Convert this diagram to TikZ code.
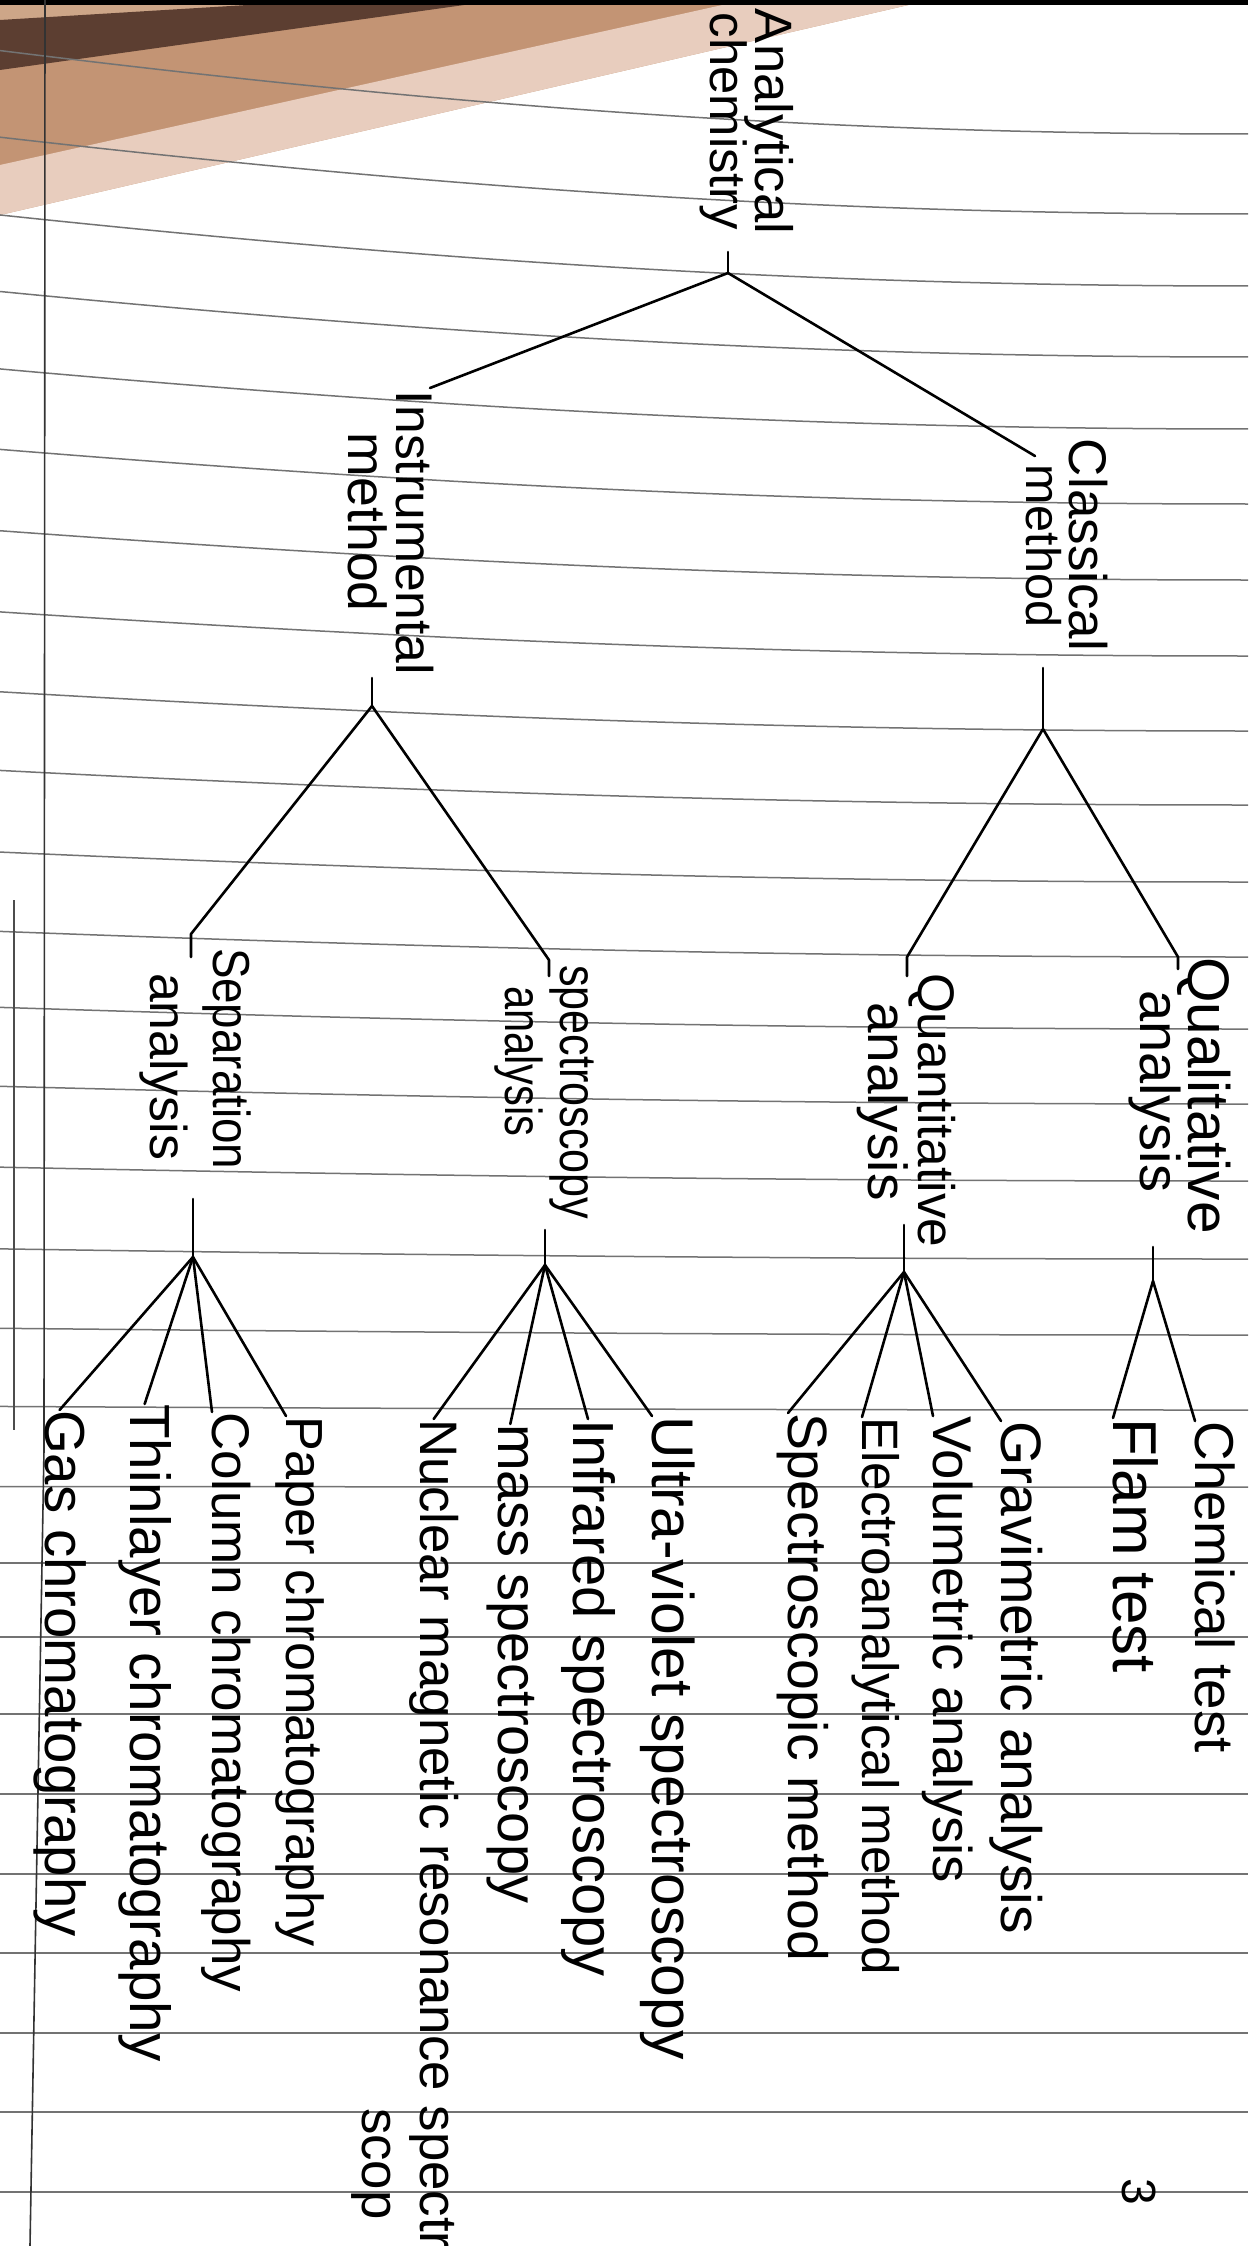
\documentclass[tikz,border=0pt]{standalone}
\usepackage{fontspec}
\setmainfont{Liberation Sans}
\definecolor{ruleline}{HTML}{737373}
\definecolor{brownmid}{HTML}{C39474}
\definecolor{brownlight}{HTML}{E8CDBE}
\definecolor{browndark}{HTML}{5C3E31}
\definecolor{browntan}{HTML}{CDA688}
\begin{document}
\begin{tikzpicture}[x=0.5pt,y=-0.5pt,
  hw/.style={rotate=-90, anchor=base west, inner sep=0pt, outer sep=0pt, font=\fontsize{#1}{#1}\selectfont},
  hw/.default=28,
  pen/.style={line width=1.3pt, line cap=round, line join=round},
  ruled/.style={draw=ruleline, line width=0.75pt},
]
\fill[white] (0,0) rectangle (1248,2246);
\useasboundingbox (0,0) rectangle (1248,2246);
% shadow of the page corner
\fill[brownmid] (0,0) -- (930,0) -- (0,215) -- cycle;
\fill[brownlight] (0,165) -- (745,0) -- (930,0) -- (0,215) -- cycle;
\fill[browntan] (0,0) -- (330,0) -- (0,22) -- cycle;
\fill[browndark] (0,20) -- (330,0) -- (500,0) -- (0,70) -- cycle;
\fill[black] (0,0) rectangle (1248,5);
% ruled lines
\foreach \yr in {134,214,286,357,429,504,580,656,731,805,882,957,1029,1104,1181,1259,1335,1410,1487,1563,1637,1714,1794,1874,1953,2033,2112,2192}{
  \pgfmathsetmacro{\rt}{max(0,1-\yr/1500)}
  \pgfmathsetmacro{\dl}{95*\rt*(0.6+0.4*\rt)}
  \draw[ruled] (0,{\yr-\dl}) .. controls (437,{\yr-0.35*\dl}) and (811,\yr) .. (1248,\yr);
}
% margin lines
\draw[line width=0.8pt, black!80] (45,0) -- (44,1450) -- (30,2246);
\draw[line width=0.8pt, black!70] (14,900) -- (14,1430);

% ---------- root ----------
\node[hw=26.3] (an1) at (755,9) {Analytical};
\node[hw=25.4] (an2) at (710,13) {chemistry};
\coordinate (rS) at (728,252);
\coordinate (rJ) at (728,273);
\coordinate (inE) at (430,388);
\coordinate (clE) at (1035,456);
\draw[pen] (rS) -- (rJ);
\draw[pen] (rJ) -- (inE);
\draw[pen] (rJ) -- (clE);

% ---------- level 1 ----------
\node[hw=25.8] (in1) at (396,391) {Instrumental};
\node[hw=26.8] (in2) at (348,433) {method};
\coordinate (iS) at (372,678);
\coordinate (iJ) at (372,706);
\node[hw=26.5] (cl1) at (1069,439) {Classical};
\node[hw=24.3] (cl2) at (1026,465) {method};
\coordinate (cS) at (1043,668);
\coordinate (cJ) at (1043,729);
\draw[pen] (iS) -- (iJ);
\draw[pen] (cS) -- (cJ);

% ---------- level 2 ----------
\node[hw=29.3] (ql1) at (1188,957) {Qualitative};
\node[hw=28] (ql2) at (1140,990) {analysis};
\node[hw=25.7] (qn1) at (918,973) {Quantitative};
\node[hw=27.5] (qn2) at (868,1002) {analysis};
\node[hw=26] (sp1) at (560,965) {\scalebox{0.83}[1]{spectroscopy}};
\node[hw=26] (sp2) at (505,986) {\scalebox{0.8}[1]{analysis}};
\node[hw=26] (se1) at (213,948) {\scalebox{0.88}[1]{Separation}};
\node[hw=25.9] (se2) at (150,973) {analysis};

\coordinate (qlE) at (1178,957); \coordinate (qlT) at (1178,969);
\coordinate (qnE) at (907,957);  \coordinate (qnT) at (907,976);
\coordinate (spE) at (549,960);  \coordinate (spT) at (549,976);
\coordinate (seE) at (191,934);  \coordinate (seT) at (191,957);
\draw[pen] (cJ) -- (qlE) -- (qlT);
\draw[pen] (cJ) -- (qnE) -- (qnT);
\draw[pen] (iJ) -- (spE) -- (spT);
\draw[pen] (iJ) -- (seE) -- (seT);

\coordinate (qlS) at (1153,1247); \coordinate (qlJ) at (1153,1281);
\coordinate (qnS) at (904,1225);  \coordinate (qnJ) at (904,1272);
\coordinate (spS) at (545,1230);  \coordinate (spJ) at (545,1265);
\coordinate (seS) at (193,1199);  \coordinate (seJ) at (193,1257);
\draw[pen] (qlS) -- (qlJ);
\draw[pen] (qnS) -- (qnJ);
\draw[pen] (spS) -- (spJ);
\draw[pen] (seS) -- (seJ);

% ---------- leaves ----------
\node[hw=27.4] (chem) at (1195,1421) {Chemical test};
\node[hw=31]   (flam) at (1113,1418) {Flam test};
\node[hw=28.5] (grav) at (1001,1421) {Gravimetric analysis};
\node[hw=27.3] (vol)  at (933,1416) {Volumetric analysis};
\node[hw=25.6] (elec) at (862,1417) {Electroanalytical method};
\node[hw=27.7] (spm)  at (788,1413) {Spectroscopic method};
\node[hw=29.4] (uv)   at (652,1416) {Ultra-violet spectroscopy};
\node[hw=29]   (ir)   at (573,1419) {Infrared spectroscopy};
\node[hw=28]   (mass) at (498,1424) {mass spectroscopy};
\node[hw=26.4] (nmr)  at (420,1419) {Nuclear magnetic resonance spectr};
\node[hw=26.4] (nmrb) at (362,2108) {scop};
\node[hw=26.1] (paper) at (286,1416) {Paper chromatography};
\node[hw=26.5] (col)  at (212,1412) {Column chromatography};
\node[hw=28.3] (thin) at (130,1404) {Thinlayer chromatography};
\node[hw=28.2] (gas)  at (45,1410) {Gas chromatography};

\draw[pen] (qlJ) -- (chem.base west);
\draw[pen] (qlJ) -- (flam.base west);
\draw[pen] (qnJ) -- (grav.base west);
\draw[pen] (qnJ) -- (vol.base west);
\draw[pen] (qnJ) -- (elec.base west);
\draw[pen] (qnJ) -- (spm.base west);
\draw[pen] (spJ) -- (uv.base west);
\draw[pen] (spJ) -- (ir.west);
\draw[pen] (spJ) -- (mass.west);
\draw[pen] (spJ) -- (nmr.west);
\draw[pen] (seJ) -- (paper.base west);
\draw[pen] (seJ) -- (col.base west);
\draw[pen] (seJ) -- (thin.west);
\draw[pen] (seJ) -- (gas.west);

% page number
\node[hw=24] (pg) at (1122,2178) {3};
\end{tikzpicture}
\end{document}
